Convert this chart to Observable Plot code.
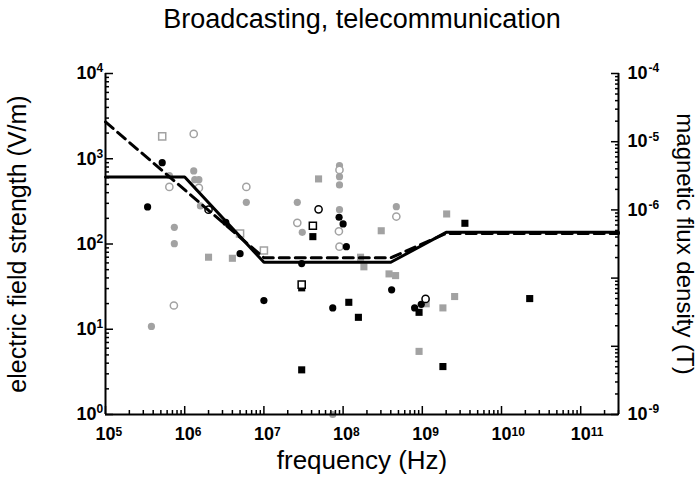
<!DOCTYPE html>
<html>
<head>
<meta charset="utf-8">
<script src="https://cdn.jsdelivr.net/npm/d3@7"></script>
<script src="https://cdn.jsdelivr.net/npm/@observablehq/plot@0.6"></script>
<style>
  body { margin: 0; background: #fff; }
  #chart svg { font-family: "Liberation Sans", Arial, Helvetica, sans-serif; }
</style>
</head>
<body>
<div id="chart"></div>
<script>
// ---- data (frequency in Hz, electric field strength in V/m) ----
const limitSolidF = [1e5, 1e6, 1e7, 4e8, 2e9, 3e11];
const limitSolidE = [610, 610, 61, 61, 137, 137];
const limitDashF = [1e5, 1e7, 4e8, 2e9, 3e11];
const limitDashE = [2700, 69, 69, 133, 133];

const blackDotF = [3.4e5, 5.2e5, 3.3e6, 5.0e6, 1.0e7, 3.0e7, 7.4e7, 8.9e7, 1.0e8, 1.1e8, 4.1e8, 8.0e8, 9.7e8];
const blackDotE = [272, 900, 180, 77, 21.7, 59, 17.8, 206, 172, 93, 29, 17.8, 19.6];

const blackRingF = [2.0e6, 4.9e7, 1.1e9];
const blackRingE = [253, 255, 22.7];

const grayDotF = [3.8e5, 6.4e5, 7.4e5, 7.4e5, 1.3e6, 1.34e6, 1.51e6, 1.58e6, 6.0e6, 2.64e7, 3.05e7, 9.0e7, 9.0e7, 9.0e7, 9.0e7, 4.7e8, 7.4e7];
const grayDotE = [10.8, 634, 157, 101, 719, 569, 569, 280, 308, 308, 137, 830, 617, 493, 253, 274, 1.0];

const grayRingF = [7.3e5, 1.3e6, 6.4e5, 1.51e6, 6.0e6, 2.64e7, 9.0e7, 8.85e7, 9.0e7, 4.7e8];
const grayRingE = [19.0, 1954, 467, 455, 467, 177, 739, 141, 93, 210];

const blackSquareF = [4.15e7, 3.0e7, 3.0e7, 1.18e8, 1.56e8, 9.1e8, 1.82e9, 3.45e9, 2.27e10];
const blackSquareE = [122, 30.6, 3.34, 20.7, 13.8, 15.8, 3.65, 175, 22.9];

const blackOpenSquareF = [4.15e7, 3.0e7];
const blackOpenSquareE = [164, 33.4];

const graySquareF = [2.0e6, 4.0e6, 4.9e7, 1.66e8, 1.83e8, 3.03e8, 3.8e8, 4.6e8, 9.1e8, 1.12e9, 1.82e9, 2.03e9, 2.56e9];
const graySquareE = [70, 68, 580, 70, 54, 143, 44.6, 42.6, 5.5, 19.9, 17.8, 225, 24.2];

const grayOpenSquareF = [5.2e5, 5.0e6, 1.0e7];
const grayOpenSquareE = [1832, 133, 84];

// tick labels
const xExponents = [5, 6, 7, 8, 9, 10, 11];
const eExponents = [0, 1, 2, 3, 4];
const bExponents = [-9, -8, -7, -6, -5, -4];

const titleText = "Broadcasting, telecommunication";
const xTitle = "frequency (Hz)";
const yTitle = "electric field strength (V/m)";
const y2Title = "magnetic flux density (T)";

// ---- helpers ----
const rows = (F, E) => F.map((f, i) => ({f, e: E[i]}));
const gray = "#a2a2a2";
const xDomain = [1e5, 3e11];

const xMajor = xExponents.map(e => 10 ** e);
const xMinor = [];
for (const e of xExponents) for (let k = 2; k <= 9; k++) { const v = k * 10 ** e; if (v <= xDomain[1] * 1.0001) xMinor.push(v); }
const yMajor = eExponents.map(e => 10 ** e);
const yMinor = [];
for (const e of eExponents.slice(0, -1)) for (let k = 2; k <= 9; k++) yMinor.push(k * 10 ** e);
// right axis: 1e-9..1e-4 T spans the same height as 1..1e4 V/m
const bToE = b => 10 ** ((Math.log10(b) + 9) * 0.8);
const eToBExp = d => Math.round(Math.log10(d) / 0.8 - 9);
const bMajor = bExponents.map(e => bToE(10 ** e));
const bMinor = [];
for (const e of bExponents.slice(0, -1)) for (let k = 2; k <= 9; k++) bMinor.push(bToE(k * 10 ** e));

const tickStyle = {strokeWidth: 1.5, tickFormat: () => "", label: null};
const bigLbl = {fontSize: 18, fontWeight: "bold", label: null, tickSize: 0};
const supLbl = {fontSize: 12, fontWeight: "bold", label: null, tickSize: 0};

const chart = Plot.plot({
  width: 698,
  height: 480,
  marginLeft: 105,
  marginRight: 80,
  marginTop: 73,
  marginBottom: 66,
  style: {background: "#fff", overflow: "visible"},
  x: {type: "log", domain: xDomain, axis: null},
  y: {type: "log", domain: [1, 1e4], axis: null},
  marks: [
    // points
    Plot.dot(rows(grayDotF, grayDotE), {x: "f", y: "e", r: 3.6, fill: gray}),
    Plot.dot(rows(grayRingF, grayRingE), {x: "f", y: "e", r: 3.6, fill: "white", stroke: gray, strokeWidth: 1.5}),
    Plot.dot(rows(graySquareF, graySquareE), {x: "f", y: "e", r: 4, symbol: "square", fill: gray}),
    Plot.dot(rows(grayOpenSquareF, grayOpenSquareE), {x: "f", y: "e", r: 4, symbol: "square", fill: "white", stroke: gray, strokeWidth: 1.5}),
    Plot.dot(rows(blackDotF, blackDotE), {x: "f", y: "e", r: 3.6, fill: "black"}),
    Plot.dot(rows(blackSquareF, blackSquareE), {x: "f", y: "e", r: 4, symbol: "square", fill: "black"}),
    Plot.dot(rows(blackOpenSquareF, blackOpenSquareE), {x: "f", y: "e", r: 4, symbol: "square", fill: "white", stroke: "black", strokeWidth: 1.5}),
    Plot.dot(rows(blackRingF, blackRingE), {x: "f", y: "e", r: 3.6, fill: "white", stroke: "black", strokeWidth: 1.5}),
    // limit lines
    Plot.line(rows(limitDashF, limitDashE), {x: "f", y: "e", stroke: "black", strokeWidth: 3, strokeDasharray: "10,6"}),
    Plot.line(rows(limitSolidF, limitSolidE), {x: "f", y: "e", stroke: "black", strokeWidth: 3}),
    // axis lines
    Plot.ruleX(xDomain, {stroke: "black", strokeWidth: 2}),
    Plot.ruleY([1], {stroke: "black", strokeWidth: 2}),
    // x axis
    Plot.axisX(xMinor, {...tickStyle, tickSize: -4}),
    Plot.axisX(xMajor, {...tickStyle, tickSize: -8}),
    Plot.axisX(xMajor, {...bigLbl, tickPadding: 13, tickFormat: () => "10"}),
    Plot.axisX(xMajor, {...supLbl, tickPadding: 13, textAnchor: "start", dx: 10, tickFormat: d => String(Math.round(Math.log10(d)))}),
    // left axis
    Plot.axisY(yMinor, {...tickStyle, anchor: "left", tickSize: -4}),
    Plot.axisY(yMajor, {...tickStyle, anchor: "left", tickSize: -8}),
    Plot.axisY(yMajor, {...bigLbl, anchor: "left", tickPadding: 9, tickFormat: () => "10"}),
    Plot.axisY(yMajor, {...supLbl, anchor: "left", tickPadding: 9, textAnchor: "start", dy: -5, tickFormat: d => String(Math.round(Math.log10(d)))}),
    // right axis (magnetic flux density)
    Plot.axisY(bMinor, {...tickStyle, anchor: "right", tickSize: -4}),
    Plot.axisY(bMajor, {...tickStyle, anchor: "right", tickSize: -8}),
    Plot.axisY(bMajor, {...bigLbl, anchor: "right", tickPadding: 9, tickFormat: () => "10"}),
    Plot.axisY(bMajor, {...supLbl, anchor: "right", tickPadding: 30, dy: -5, tickFormat: d => String(eToBExp(d))}),
    // titles
    Plot.text([titleText], {frameAnchor: "top", dy: -54, lineAnchor: "middle", textAnchor: "middle", fontSize: 27}),
    Plot.text([xTitle], {frameAnchor: "bottom", dy: 46, lineAnchor: "middle", textAnchor: "middle", fontSize: 26}),
    Plot.text([yTitle], {frameAnchor: "left", dx: -88, rotate: -90, lineAnchor: "middle", textAnchor: "middle", fontSize: 25}),
    Plot.text([y2Title], {frameAnchor: "right", dx: 66, rotate: 90, lineAnchor: "middle", textAnchor: "middle", fontSize: 24})
  ]
});
document.getElementById("chart").appendChild(chart);
</script>
</body>
</html>
